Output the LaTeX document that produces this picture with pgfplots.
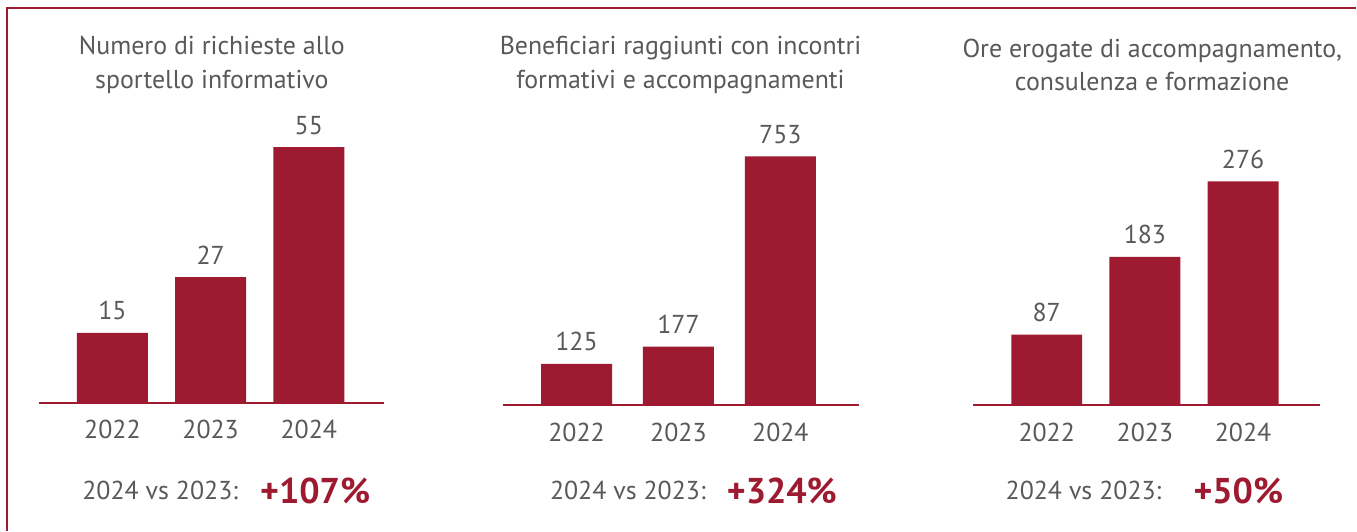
\documentclass[border=0pt]{standalone}
\usepackage{fontspec}
\setmainfont{PT Sans}
\usepackage{pgfplots}
\pgfplotsset{compat=1.18}
\definecolor{bordo}{RGB}{158,26,48}
\definecolor{grigio}{RGB}{88,89,91}

\pgfplotsset{pannello/.style={
    scale only axis, clip=false,
    ybar, bar width=35.5bp, bar shift=0pt,
    axis y line=none, axis x line*=bottom,
    axis line style={bordo, line width=1bp},
    ymin=0, enlargelimits=false,
    xtick={0,1,2}, xticklabels={2022,2023,2024},
    major tick length=0pt,
    xticklabel style={anchor=base, yshift=-18bp, font=\fontsize{13}{16}\selectfont, text=grigio},
    /pgf/number format/assume math mode=true,
    nodes near coords,
    nodes near coords style={anchor=base, yshift=6.5bp, font=\fontsize{13}{16}\selectfont, text=grigio},
}}

\begin{document}
\begin{tikzpicture}[x=0.5bp, y=0.5bp]
\path (0,0) rectangle (1357,531);
\draw[bordo, line width=1bp] (7,0) -- (7,523) -- (1357,523);
\coordinate (p1) at (39,128);
\coordinate (p2) at (503,125.5);
\coordinate (p3) at (974,125.5);

% pannello 1
\begin{axis}[pannello, at={(p1)}, anchor=south west,
    width=172.5bp, height=146.5bp, xmin=-0.748, xmax=2.763, ymax=63]
\addplot[fill=bordo, draw=none] table {
x y
0 15
1 27
2 55
};
\end{axis}

% pannello 2
\begin{axis}[pannello, at={(p2)}, anchor=south west,
    width=178.5bp, height=147.75bp, xmin=-0.725, xmax=2.775, ymax=893.6]
\addplot[fill=bordo, draw=none] table {
x y
0 125
1 177
2 753
};
\end{axis}

% pannello 3
\begin{axis}[pannello, at={(p3)}, anchor=south west,
    width=173.5bp, height=147.75bp, xmin=-0.748, xmax=2.784, ymax=364.1]
\addplot[fill=bordo, draw=none] table {
x y
0 87
1 183
2 276
};
\end{axis}

\begin{scope}[every node/.style={align=center, text=grigio, font=\fontsize{13}{17}\selectfont}]
\node at (212,466) {Numero di richieste allo\\sportello informativo};
\node at (681,466) {Beneficiari raggiunti con incontri\\formativi e accompagnamenti};
\node at (1153,466) {Ore erogate di accompagnamento,\\consulenza e formazione};
\end{scope}

\begin{scope}[every node/.style={inner sep=0pt, anchor=base west}]
\node[text=grigio, font=\fontsize{13}{16}\selectfont] at (82,31) {2024 vs 2023:};
\node[text=bordo, font=\fontsize{18}{20}\selectfont\bfseries] at (260,27) {+107\%};
\node[text=grigio, font=\fontsize{13}{16}\selectfont] at (550,31) {2024 vs 2023:};
\node[text=bordo, font=\fontsize{18}{20}\selectfont\bfseries] at (727,27) {+324\%};
\node[text=grigio, font=\fontsize{13}{16}\selectfont] at (1006,31) {2024 vs 2023:};
\node[text=bordo, font=\fontsize{18}{20}\selectfont\bfseries] at (1194,27) {+50\%};
\end{scope}
\end{tikzpicture}
\end{document}
